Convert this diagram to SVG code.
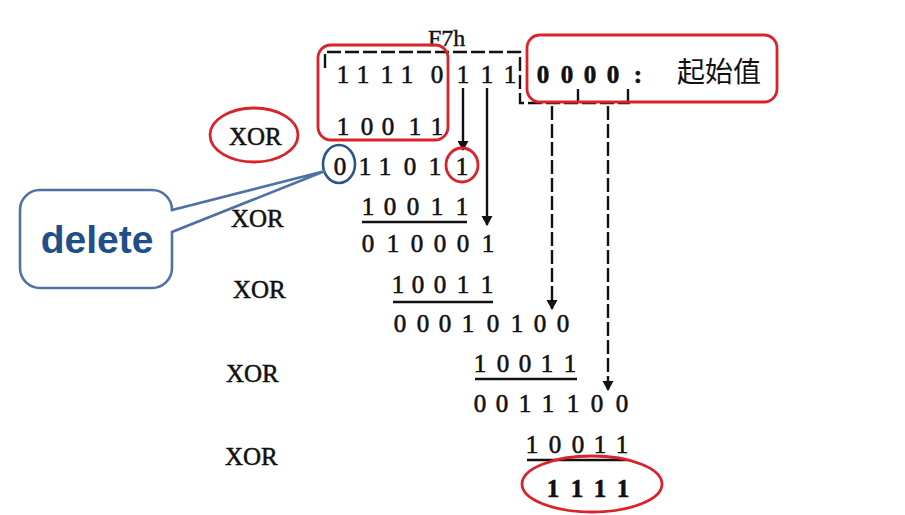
<svg xmlns="http://www.w3.org/2000/svg" width="905" height="515" viewBox="0 0 905 515">
<style>
.d{font-family:"Liberation Serif","Times New Roman",serif;font-size:25px;fill:#111;stroke:#111;stroke-width:0.6;text-anchor:middle}
.b{font-weight:bold}
.x{font-family:"Liberation Serif","Times New Roman",serif;font-size:25px;fill:#111;stroke:#111;stroke-width:0.5}
.red{fill:none;stroke:#d8232a;stroke-width:2.8}
.ul{stroke:#111;stroke-width:2.6}
.ar{stroke:#111;stroke-width:2.4;fill:none}
.ds{stroke-dasharray:14 4}
</style>
<defs>
<marker id="ah" markerWidth="10" markerHeight="13" refX="9" refY="6.5" orient="auto" markerUnits="userSpaceOnUse">
<path d="M0,1 L10,6.5 L0,12 Z" fill="#111"/>
</marker>
</defs>
<rect width="905" height="515" fill="#fff"/>

<g id="connectors">
<path class="ar ds" d="M325,68 V52 H520 V103 H630 M578,103 V88 M628,103 V88"/>
<line class="ar" x1="463" y1="88" x2="463" y2="150" marker-end="url(#ah)"/>
<line class="ar" x1="487" y1="88" x2="487" y2="225" marker-end="url(#ah)"/>
<line class="ar ds" x1="552" y1="106" x2="552" y2="309" marker-end="url(#ah)"/>
<line class="ar ds" x1="608" y1="106" x2="608" y2="390" marker-end="url(#ah)"/>
</g>

<g id="label-f7h">
<text x="428" y="46" font-family="Liberation Serif, serif" font-size="24" fill="#111" stroke="#111" stroke-width="0.4">F7h</text>
</g>

<g id="row-initial">
<text class="d" font-size="27" y="83" x="343 353 363 375 387 397 407 422 437 450 463 475 487 498 510">1 1 1 1 0 1 1 1</text>
<text class="d b" font-size="26" y="83" x="543 555 567 578 590 602 613 626 638">0 0 0 0 :</text>
<text x="677" y="82" font-family="Noto Sans CJK SC, sans-serif" font-size="28" fill="#111">起始值</text>
</g>
<g id="box-initial-1"><rect class="red" x="318" y="45" width="130" height="95" rx="13"/></g>
<g id="box-initial-2"><rect class="red" x="527" y="35" width="250" height="67" rx="13"/></g>

<g id="row-poly1"><text class="d" y="135" x="343 355 367 377 388 401 415 426 437">1 0 0 1 1</text></g>
<g id="row-r1"><text class="d" y="175" x="340 352 365 375 385 397 410 422 435 448 462">0 1 1 0 1 1</text></g>
<g id="row-poly2"><text class="d" y="215" x="368 379 390 401 413 425 437 449 462">1 0 0 1 1</text><line class="ul" x1="362" y1="222" x2="467" y2="222"/></g>
<g id="row-r2"><text class="d" y="252" x="368 380 393 405 417 428 440 451 463 475 488">0 1 0 0 0 1</text></g>
<g id="row-poly3"><text class="d" y="293" x="398 408 418 429 440 451 463 475 487">1 0 0 1 1</text><line class="ul" x1="393" y1="302" x2="493" y2="302"/></g>
<g id="row-r3"><text class="d" y="332" x="400 411 423 434 445 456 468 480 493 505 517 528 540 551 563">0 0 0 1 0 1 0 0</text></g>
<g id="row-poly4"><text class="d" y="372" x="480 491 503 514 525 536 547 558 570">1 0 0 1 1</text><line class="ul" x1="475" y1="379" x2="577" y2="379"/></g>
<g id="row-r4"><text class="d" y="412" x="480 491 502 513 525 536 548 560 573 585 597 609 622">0 0 1 1 1 0 0</text></g>
<g id="row-poly5"><text class="d" y="453" x="532 543 555 566 578 589 600 611 622">1 0 0 1 1</text><line class="ul" x1="527" y1="460" x2="627" y2="460"/></g>
<g id="row-result"><text class="d b" y="497" x="553 565 577 588 600 611 623">1 1 1 1</text><ellipse class="red" cx="592" cy="484" rx="70" ry="28"/></g>

<g id="xor-1"><ellipse class="red" cx="254" cy="135" rx="44" ry="27"/><text class="x" x="229" y="145">XOR</text></g>
<g id="xor-2"><text class="x" x="231" y="227">XOR</text></g>
<g id="xor-3"><text class="x" x="233" y="298">XOR</text></g>
<g id="xor-4"><text class="x" x="226" y="382">XOR</text></g>
<g id="xor-5"><text class="x" x="225" y="465">XOR</text></g>

<g id="mark-deleted"><ellipse cx="339" cy="164" rx="16" ry="19" fill="none" stroke="#2c5585" stroke-width="2.6"/></g>
<g id="mark-bit"><ellipse class="red" cx="462" cy="165" rx="16" ry="17"/></g>

<g id="callout-delete">
<path d="M40,190 H152 A20,20 0 0 1 172,210 L325,171 L172,232 V268 A20,20 0 0 1 152,288 H40 A20,20 0 0 1 20,268 V210 A20,20 0 0 1 40,190 Z" fill="#fff" stroke="#4f72a3" stroke-width="2.6"/>
<text x="97" y="253" font-family="Liberation Sans, Arial, sans-serif" font-size="39" font-weight="bold" fill="#1f4e89" text-anchor="middle">delete</text>
</g>
</svg>
